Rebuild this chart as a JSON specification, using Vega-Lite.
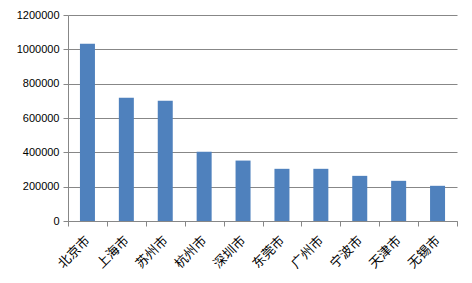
{
  "$schema": "https://vega.github.io/schema/vega-lite/v6.json",
  "width": 389,
  "height": 206,
  "autosize": {"type": "none"},
  "padding": {"left": 68, "top": 15, "right": 15, "bottom": 62},
  "background": "white",
  "data": {"values": [
    {"city": "北京市", "value": 1033000},
    {"city": "上海市", "value": 718000},
    {"city": "苏州市", "value": 701000},
    {"city": "杭州市", "value": 403000},
    {"city": "深圳市", "value": 352000},
    {"city": "东莞市", "value": 304000},
    {"city": "广州市", "value": 304000},
    {"city": "宁波市", "value": 263000},
    {"city": "天津市", "value": 234000},
    {"city": "无锡市", "value": 205000}
  ]},
  "mark": {"type": "bar", "color": "#4F81BD", "width": 15},
  "encoding": {
    "x": {
      "field": "city", "type": "nominal", "sort": null,
      "scale": {"paddingInner": 0, "paddingOuter": 0},
      "axis": {
        "title": null, "labelAngle": -45, "labelAlign": "right", "labelBaseline": "middle",
        "labelFont": "Noto Sans CJK SC", "labelFontSize": 13, "labelColor": "#000000",
        "tickBand": "extent", "tickSize": 5, "tickColor": "#878787",
        "domainColor": "#878787", "labelPadding": 12, "labelOffset": 0
      }
    },
    "y": {
      "field": "value", "type": "quantitative",
      "scale": {"domain": [0, 1200000], "nice": false},
      "axis": {
        "title": null, "values": [0, 200000, 400000, 600000, 800000, 1000000, 1200000],
        "format": "d", "labelFont": "Liberation Sans", "labelFontSize": 11, "labelColor": "#000000",
        "gridColor": "#878787", "tickColor": "#878787", "tickSize": 5, "domainColor": "#878787",
        "labelPadding": 4
      }
    }
  },
  "config": {"view": {"stroke": null}}
}
